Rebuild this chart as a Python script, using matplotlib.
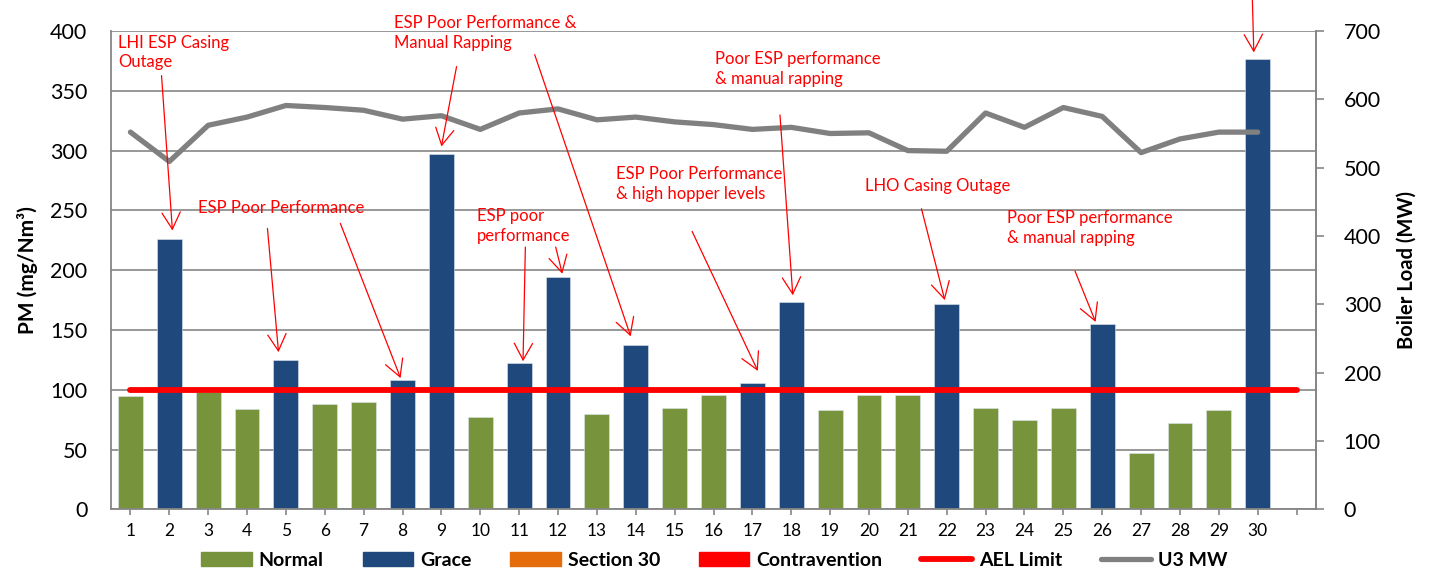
import matplotlib
matplotlib.use("Agg")
import matplotlib.pyplot as plt
from matplotlib.patches import Patch
from matplotlib.lines import Line2D

plt.rcParams['font.family'] = ['Lato', 'DejaVu Sans']

days = list(range(1, 31))
pm = [95, 226, 98, 84, 125, 88, 90, 108, 297, 77,
      122, 194, 80, 137, 85, 96, 106, 173, 83, 95.5,
      95.5, 172, 85, 75, 85, 155, 47.5, 72, 83, 377]
status = ['N', 'G', 'N', 'N', 'G', 'N', 'N', 'G', 'G', 'N',
          'G', 'G', 'N', 'G', 'N', 'N', 'G', 'G', 'N', 'N',
          'N', 'G', 'N', 'N', 'N', 'G', 'N', 'N', 'N', 'G']
u3_mw = [552, 509, 562, 574, 591, 588, 584, 571, 576, 556,
         580, 586, 570, 574, 567, 563, 556, 559, 550, 551,
         525, 524, 580, 559, 588, 575, 522, 542, 552, 552]
ael_days = list(range(1, 32))
ael_limit = [100] * 31

# annotations: (text, text_x, text_top_y, [(tail_x, tail_y, head_x, head_y), ...])
annotations = [
    ("LHI ESP Casing\nOutage", 0.69, 397, [(1.80, 362.7, 2.08, 233.2)]),
    ("ESP Poor Performance", 2.75, 259, [(4.525, 234.9, 4.81, 131.4),
                                         (6.40, 239.1, 7.95, 109.7)]),
    ("ESP Poor Performance &\nManual Rapping", 7.79, 413, [(9.39, 370.2, 9.0, 303.4),
                                                          (11.40, 380.2, 13.87, 144.6)]),
    ("ESP poor\nperformance", 9.92, 252, [(11.16, 219.3, 11.10, 123.8),
                                          (11.94, 219.3, 12.11, 197.0)]),
    ("ESP Poor Performance\n& high hopper levels", 13.48, 287, [(15.45, 232.4, 17.14, 115.7)]),
    ("Poor ESP performance\n& manual rapping", 16.05, 383, [(17.71, 329.8, 18.04, 179.0)]),
    ("LHO Casing Outage", 19.89, 277, [(21.35, 251.4, 21.95, 174.9)]),
    ("Poor ESP performance\n& manual rapping", 23.56, 250, [(25.30, 199.3, 25.83, 156.7)]),
    ("", 29.9, 430, [(29.86, 430.0, 29.90, 382.1)]),
]

GREEN = '#77933C'
BLUE = '#1F497D'
ORANGE = '#E46C0A'
RED = '#FF0000'
GRAY = '#808080'
AXC = '#868686'

fig = plt.figure(figsize=(14.29, 5.75), dpi=100)
ax = fig.add_axes([111/1429, 1-509.3/575, (1316-111)/1429, (509.3-31)/575])
ax2 = ax.twinx()

colors = [GREEN if s == 'N' else BLUE for s in status]
ax.bar(days, pm, width=0.64, color=colors, edgecolor='#dfe6ee', linewidth=0.4, zorder=2)
ax.plot(ael_days, ael_limit, color=RED, lw=4.2, solid_capstyle='round', zorder=3)

ax.set_xlim(0.5, 31.5)
ax.set_ylim(0, 400)
ax.set_yticks(range(0, 401, 50))
ax.set_xticks(range(1, 32))
ax.set_xticklabels([str(d) for d in days] + [''])
ax.yaxis.grid(True, color=AXC, lw=1.2, zorder=0)
ax.set_axisbelow(True)
ax.spines['top'].set_visible(False)
for s in ['left', 'bottom', 'right']:
    ax.spines[s].set_color(AXC)
    ax.spines[s].set_linewidth(1.3)
ax.tick_params(axis='y', length=0, pad=17, labelsize=15.5)
ax.tick_params(axis='x', length=4, width=1.2, color=AXC, pad=6, labelsize=12.5)
ax.set_ylabel('PM (mg/Nm³)', fontsize=15, fontweight='bold', labelpad=9)

ax2.plot(days, u3_mw, color=GRAY, lw=3.8, solid_capstyle='round', zorder=3)
ax2.set_ylim(0, 700)
ax2.set_yticks(range(0, 701, 100))
for s in ['top', 'left', 'bottom']:
    ax2.spines[s].set_visible(False)
ax2.spines['right'].set_color(AXC)
ax2.spines['right'].set_linewidth(1.3)
ax2.tick_params(axis='y', length=6, width=1.2, color=AXC, pad=14, labelsize=15.5)
ax2.set_ylabel('Boiler Load (MW)', fontsize=14.5, fontweight='bold', labelpad=11)

for text, tx, ty, arrows in annotations:
    if text:
        ax2.text(tx, ty, text, transform=ax.transData, color=RED, fontsize=12,
                 ha='left', va='top', linespacing=1.3, zorder=6, clip_on=False)
    for (x0, y0, x1, y1) in arrows:
        ax2.annotate('', xy=(x1, y1), xycoords=ax.transData,
                     xytext=(x0, y0), textcoords=ax.transData,
                     arrowprops=dict(arrowstyle='->,head_length=1.0,head_width=0.55',
                                     color=RED, lw=0.9, shrinkA=0, shrinkB=0,
                                     mutation_scale=12),
                     annotation_clip=False, zorder=6)

handles = [Patch(color=GREEN, label='Normal'),
           Patch(color=BLUE, label='Grace'),
           Patch(color=ORANGE, label='Section 30'),
           Patch(color=RED, label='Contravention'),
           Line2D([], [], color=RED, lw=4.2, label='AEL Limit', solid_capstyle='round'),
           Line2D([], [], color=GRAY, lw=3.8, label='U3 MW', solid_capstyle='round')]
fig.legend(handles=handles, loc='center', bbox_to_anchor=(0.5, 1-560/575), ncol=6,
           frameon=False, prop={'size': 14, 'weight': 'bold'},
           handlelength=2.6, handletextpad=0.35, columnspacing=2.0, handleheight=0.75)

fig.savefig('out.png', dpi=100)
